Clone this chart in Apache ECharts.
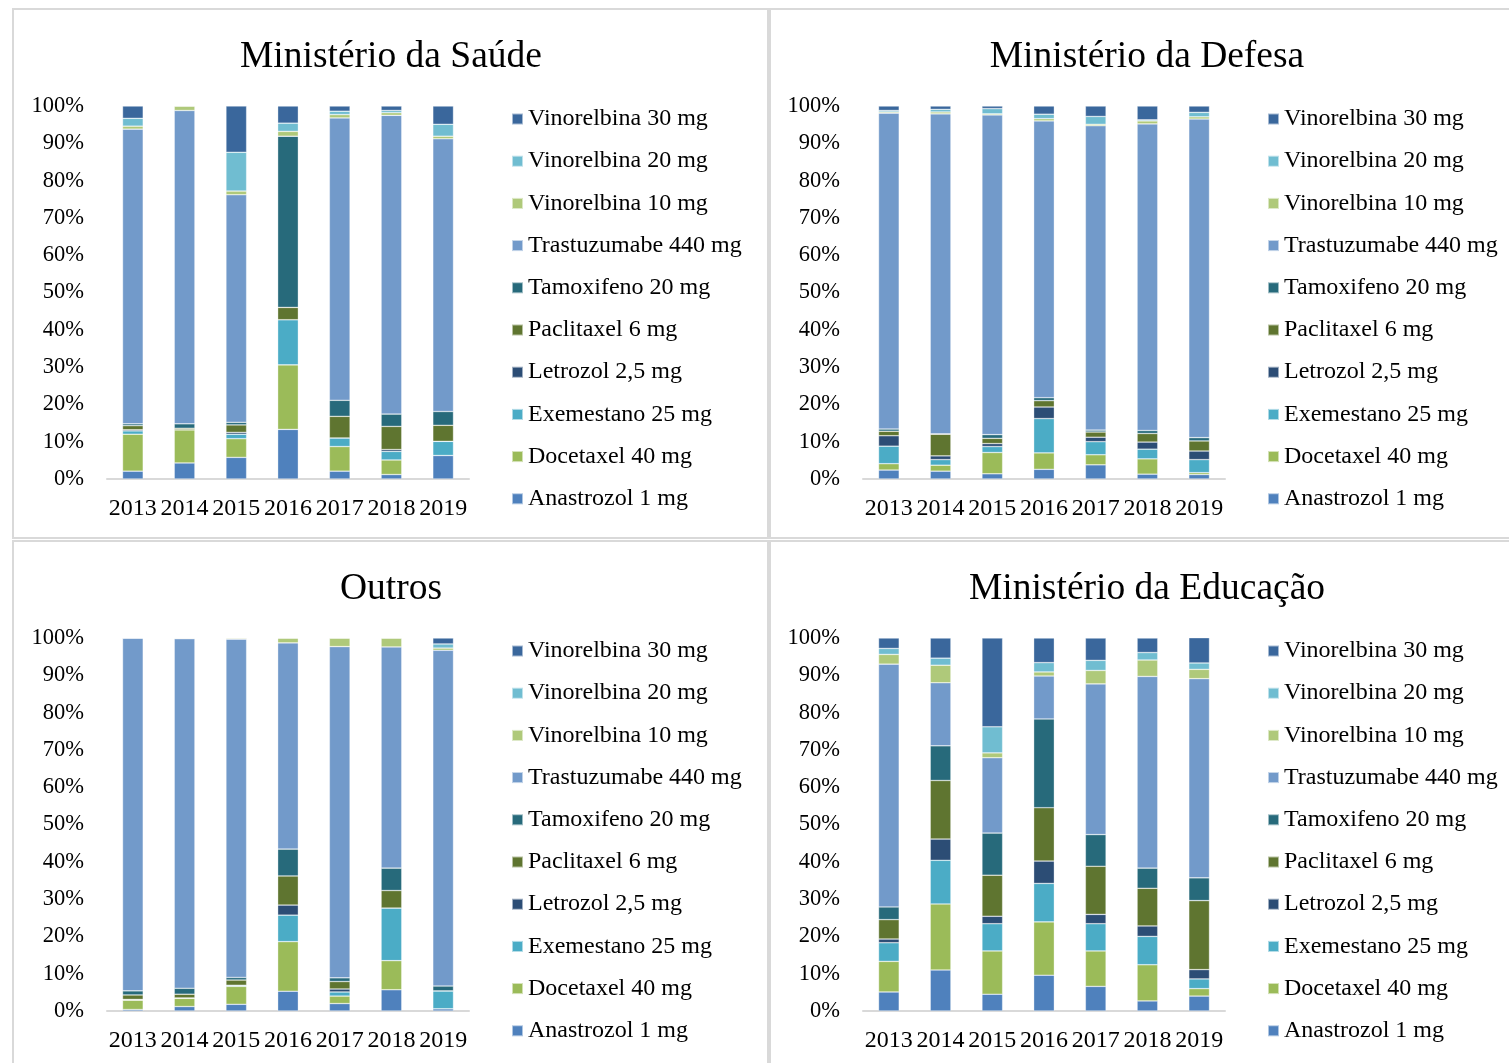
<!DOCTYPE html>
<html>
<head>
<meta charset="utf-8">
<script src="https://cdn.jsdelivr.net/npm/echarts@6/dist/echarts.min.js"></script>
<style>
html,body{margin:0;padding:0;background:#fff;}
#c{width:1509px;height:1063px;}
</style>
</head>
<body>
<div id="c"></div>
<script>
const years = ['2013','2014','2015','2016','2017','2018','2019'];
const drugNames = ['Anastrozol 1 mg','Docetaxel 40 mg','Exemestano 25 mg','Letrozol 2,5 mg','Paclitaxel 6 mg','Tamoxifeno 20 mg','Trastuzumabe 440 mg','Vinorelbina 10 mg','Vinorelbina 20 mg','Vinorelbina 30 mg'];
const drugColors = ['#4F81BD','#9BBB59','#4BACC6','#2C4D75','#5F7530','#276A7B','#729ACA','#AFC97A','#70BDD1','#3A679C'];
const panelTitles = ['Ministério da Saúde','Ministério da Defesa','Outros','Ministério da Educação'];
const yTicks = [0,10,20,30,40,50,60,70,80,90,100];

// Ministério da Saúde
const saudeAnastrozol = [2.1, 4.3, 5.8, 13.3, 2.1, 1.2, 6.3];
const saudeDocetaxel = [9.9, 8.9, 5.0, 17.3, 6.6, 3.9, 0];
const saudeExemestano = [0.9, 0, 1.2, 12.1, 2.3, 2.3, 3.8];
const saudeLetrozol = [0.3, 0, 0.5, 0, 0, 0.5, 0];
const saudePaclitaxel = [1.1, 0.4, 2.0, 3.3, 5.8, 6.2, 4.3];
const saudeTamoxifeno = [0.5, 1.2, 0.7, 45.9, 4.3, 3.3, 3.7];
const saudeTrastuzumabe = [79.0, 84.0, 61.0, 0, 75.7, 80.1, 73.1];
const saudeVin10 = [0.8, 1.2, 1.0, 1.3, 0.9, 0.7, 0.7];
const saudeVin20 = [2.1, 0, 10.4, 2.2, 0.9, 0.6, 3.2];
const saudeVin30 = [3.3, 0, 12.4, 4.6, 1.4, 1.2, 4.9];

// Ministério da Defesa
const defesaAnastrozol = [2.4, 2.1, 1.4, 2.6, 3.8, 1.3, 1.2];
const defesaDocetaxel = [1.7, 1.6, 5.7, 4.4, 2.7, 4.1, 0.5];
const defesaExemestano = [4.7, 1.5, 1.6, 9.2, 3.5, 2.6, 3.5];
const defesaLetrozol = [2.8, 1.0, 0.8, 3.1, 1.2, 1.9, 2.3];
const defesaPaclitaxel = [1.2, 5.8, 1.4, 1.7, 1.4, 2.3, 2.7];
const defesaTamoxifeno = [0.6, 0.1, 1.0, 0.8, 0.5, 0.8, 0.9];
const defesaTrastuzumabe = [84.7, 85.8, 85.7, 74.2, 81.6, 82.2, 85.4];
const defesaVin10 = [0.3, 0.5, 0.3, 0.6, 0.4, 0.8, 0.6];
const defesaVin20 = [0.4, 0.7, 1.4, 1.2, 2.1, 0.3, 1.2];
const defesaVin30 = [1.2, 0.9, 0.7, 2.2, 2.8, 3.7, 1.7];

// Outros
const outrosAnastrozol = [0.4, 1.2, 1.8, 5.3, 2.0, 5.7, 0.6];
const outrosDocetaxel = [2.5, 2.2, 4.8, 13.3, 2.0, 7.8, 0];
const outrosExemestano = [0.1, 0.1, 0.3, 7.1, 1.1, 14.1, 4.8];
const outrosLetrozol = [0.1, 0, 0, 2.7, 0.8, 0, 0];
const outrosPaclitaxel = [1.2, 1.0, 1.4, 7.8, 2.0, 4.7, 0];
const outrosTamoxifeno = [1.1, 1.6, 0.7, 7.2, 1.0, 6.0, 1.3];
const outrosTrastuzumabe = [94.6, 93.7, 90.7, 55.3, 88.8, 59.3, 90.0];
const outrosVin10 = [0, 0.2, 0.3, 1.3, 2.3, 2.4, 0.6];
const outrosVin20 = [0, 0, 0, 0, 0, 0, 1.1];
const outrosVin30 = [0, 0, 0, 0, 0, 0, 1.6];

// Ministério da Educação
const educacaoAnastrozol = [5.1, 11.0, 4.5, 9.6, 6.6, 2.7, 4.0];
const educacaoDocetaxel = [8.2, 17.7, 11.6, 14.3, 9.5, 9.7, 2.0];
const educacaoExemestano = [5.0, 11.7, 7.3, 10.3, 7.3, 7.6, 2.6];
const educacaoLetrozol = [1.0, 5.7, 2.0, 6.0, 2.5, 2.8, 2.5];
const educacaoPaclitaxel = [5.2, 15.7, 11.0, 14.3, 12.9, 10.1, 18.5];
const educacaoTamoxifeno = [3.4, 9.3, 11.3, 23.8, 8.5, 5.4, 6.1];
const educacaoTrastuzumabe = [65.1, 16.9, 20.2, 11.5, 40.4, 51.4, 53.4];
const educacaoVin10 = [2.6, 4.7, 1.3, 1.1, 3.6, 4.4, 2.5];
const educacaoVin20 = [1.6, 1.9, 7.0, 2.5, 2.7, 2.0, 1.7];
const educacaoVin30 = [2.8, 5.4, 23.8, 6.6, 6.0, 3.9, 6.8];

const panelData = [
  [saudeAnastrozol, saudeDocetaxel, saudeExemestano, saudeLetrozol, saudePaclitaxel, saudeTamoxifeno, saudeTrastuzumabe, saudeVin10, saudeVin20, saudeVin30],
  [defesaAnastrozol, defesaDocetaxel, defesaExemestano, defesaLetrozol, defesaPaclitaxel, defesaTamoxifeno, defesaTrastuzumabe, defesaVin10, defesaVin20, defesaVin30],
  [outrosAnastrozol, outrosDocetaxel, outrosExemestano, outrosLetrozol, outrosPaclitaxel, outrosTamoxifeno, outrosTrastuzumabe, outrosVin10, outrosVin20, outrosVin30],
  [educacaoAnastrozol, educacaoDocetaxel, educacaoExemestano, educacaoLetrozol, educacaoPaclitaxel, educacaoTamoxifeno, educacaoTrastuzumabe, educacaoVin10, educacaoVin20, educacaoVin30]
];

const FONT = '"Liberation Serif", "Times New Roman", serif';
const offsets = [[0,0],[756,0],[0,532],[756,532]];

const option = {
  animation: false,
  backgroundColor: '#ffffff',
  color: drugColors,
  title: [], grid: [], xAxis: [], yAxis: [], legend: [], series: [],
  graphic: [
    {type:'rect', shape:{x:13,y:9,width:755,height:529}, style:{fill:'none', stroke:'#d9d9d9', lineWidth:2}, silent:true},
    {type:'rect', shape:{x:770,y:9,width:760,height:529}, style:{fill:'none', stroke:'#d9d9d9', lineWidth:2}, silent:true},
    {type:'rect', shape:{x:13,y:541,width:755,height:540}, style:{fill:'none', stroke:'#d9d9d9', lineWidth:2}, silent:true},
    {type:'rect', shape:{x:770,y:541,width:760,height:540}, style:{fill:'none', stroke:'#d9d9d9', lineWidth:2}, silent:true}
  ]
};

panelTitles.forEach((t, p) => {
  const [ox, oy] = offsets[p];
  option.title.push({
    text: t, left: 386 + ox, top: 33 + oy, textAlign: 'center',
    textStyle: {fontFamily: FONT, fontSize: 37.5, fontWeight: 'normal', color: '#000'}
  });
  option.grid.push({left: 107 + ox, top: 106 + oy, width: 362, height: 373});
  option.xAxis.push({
    type: 'category', gridIndex: p, data: years,
    axisLine: {lineStyle: {color: '#d9d9d9', width: 2}},
    axisTick: {show: false},
    axisLabel: {fontFamily: FONT, fontSize: 24, color: '#000', margin: 18, interval: 0}
  });
  option.yAxis.push({
    type: 'value', gridIndex: p, min: 0, max: 100, interval: 10,
    axisLine: {show: false}, axisTick: {show: false}, splitLine: {show: false},
    axisLabel: {fontFamily: FONT, fontSize: 22.5, color: '#000', margin: 23, formatter: '{value}%'}
  });
  option.legend.push({
    orient: 'vertical', left: 506 + ox, top: 102 + oy,
    data: drugNames.slice().reverse(),
    icon: 'rect', itemWidth: 11, itemHeight: 11, itemGap: 18.2,
    textStyle: {fontFamily: FONT, fontSize: 24, color: '#000', lineHeight: 24},
    selectedMode: false
  });
  drugNames.forEach((name, i) => {
    option.series.push({
      type: 'bar', name: name, stack: 'p' + p,
      xAxisIndex: p, yAxisIndex: p,
      barWidth: '40%',
      itemStyle: {color: drugColors[i], borderColor: 'rgba(255,255,255,0.55)', borderWidth: 0.6},
      data: panelData[p][i]
    });
  });
});

const chart = echarts.init(document.getElementById('c'), null, {renderer: 'canvas'});
chart.setOption(option);
</script>
</body>
</html>
